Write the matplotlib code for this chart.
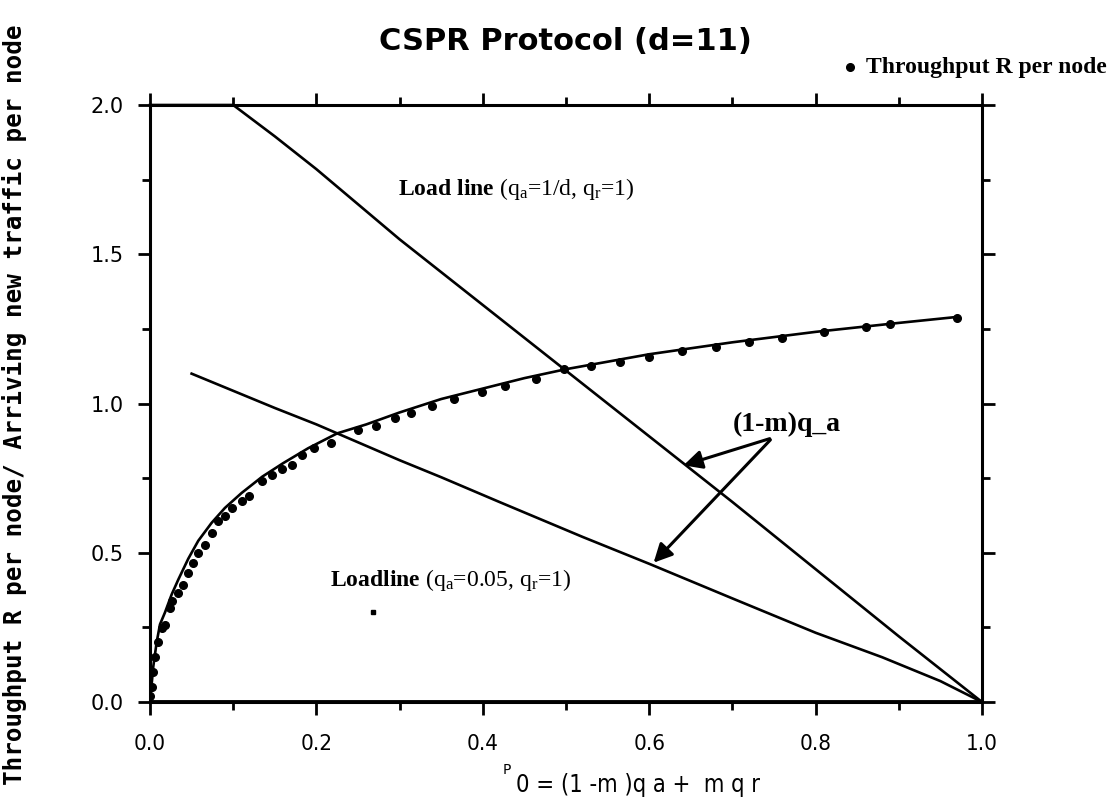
import matplotlib
matplotlib.use("Agg")
import matplotlib.pyplot as plt
from matplotlib.ticker import MultipleLocator

plt.rcParams['mathtext.fontset'] = 'custom'
plt.rcParams['mathtext.rm'] = 'Liberation Serif'
plt.rcParams['mathtext.it'] = 'Liberation Serif'
plt.rcParams['mathtext.bf'] = 'Liberation Serif:bold'

# ---- data ----
title = "CSPR Protocol (d=11)"
legend_label = "Throughput R per node"
ylabel = "Throughput R per node/ Arriving new traffic per node"

# throughput curve (solid line)
curve_x = [0.0, 0.004, 0.008, 0.012, 0.018, 0.026, 0.034, 0.046, 0.058, 0.074, 0.09,
           0.11, 0.135, 0.16, 0.19, 0.225, 0.26, 0.3, 0.35, 0.4, 0.45, 0.5,
           0.6, 0.7, 0.8, 0.9, 0.97]
curve_y = [0.0, 0.12, 0.2, 0.26, 0.3, 0.36, 0.41, 0.48, 0.54, 0.6, 0.65,
           0.7, 0.755, 0.8, 0.85, 0.9, 0.93, 0.97, 1.015, 1.05, 1.085, 1.115,
           1.165, 1.205, 1.24, 1.27, 1.29]

# throughput R per node (dots)
dot_x = [0.0, 0.002, 0.004, 0.006, 0.01, 0.014, 0.018, 0.024, 0.026, 0.034, 0.040,
         0.046, 0.052, 0.058, 0.066, 0.074, 0.082, 0.090, 0.098, 0.111, 0.119,
         0.135, 0.147, 0.159, 0.171, 0.183, 0.197, 0.218, 0.250, 0.272, 0.294,
         0.314, 0.339, 0.365, 0.399, 0.427, 0.464, 0.498, 0.53, 0.565, 0.60,
         0.64, 0.68, 0.72, 0.76, 0.81, 0.86, 0.89, 0.97]
dot_y = [0.02, 0.05, 0.10, 0.15, 0.20, 0.247, 0.258, 0.314, 0.337, 0.365, 0.393,
         0.432, 0.465, 0.499, 0.527, 0.566, 0.605, 0.622, 0.650, 0.672, 0.689,
         0.739, 0.762, 0.779, 0.795, 0.826, 0.851, 0.868, 0.910, 0.926, 0.952,
         0.968, 0.990, 1.015, 1.040, 1.058, 1.083, 1.114, 1.125, 1.14, 1.155,
         1.175, 1.19, 1.205, 1.22, 1.24, 1.255, 1.265, 1.285]

# load line q_a = 1/d, q_r = 1
load1_x = [0.0, 0.1, 0.15, 0.2, 0.3, 0.4, 0.5, 0.6, 0.7, 0.8, 0.9, 1.0]
load1_y = [2.0, 2.0, 1.895, 1.785, 1.55, 1.33, 1.11, 0.89, 0.67, 0.445, 0.22, 0.0]

# load line q_a = 0.05, q_r = 1
load2_x = [0.05, 0.15, 0.2, 0.3, 0.35, 0.42, 0.52, 0.6, 0.7, 0.8, 0.88, 0.95, 1.0]
load2_y = [1.10, 0.985, 0.93, 0.81, 0.753, 0.67, 0.553, 0.463, 0.347, 0.232, 0.15, 0.07, 0.0]

# stray speck
speck_x = [0.268]
speck_y = [0.30]

xticks = [0.0, 0.2, 0.4, 0.6, 0.8, 1.0]
yticks = [0.0, 0.5, 1.0, 1.5, 2.0]

fig = plt.figure(figsize=(11.14, 8.09), dpi=100)
L, R, T, B = 150, 982, 105, 702
ax = fig.add_axes([L/1114, 1-B/809, (R-L)/1114, (B-T)/809])

lw = 1.9
ax.plot(curve_x, curve_y, color='black', lw=lw, zorder=3)
ax.plot(dot_x, dot_y, 'o', color='black', ms=5.5, zorder=4)
ax.plot(load1_x, load1_y, color='black', lw=lw, zorder=3, clip_on=False)
ax.plot(load2_x, load2_y, color='black', lw=lw, zorder=3)
ax.plot(speck_x, speck_y, 's', color='black', ms=2.5)
ax.axhline(0, color='black', lw=3.5, zorder=5)

ax.set_xlim(0, 1.0)
ax.set_ylim(0, 2.0)
ax.set_xticks(xticks)
ax.set_yticks(yticks)
ax.xaxis.set_minor_locator(MultipleLocator(0.1))
ax.yaxis.set_minor_locator(MultipleLocator(0.25))
ax.tick_params(which='both', direction='out', top=True, right=True, width=2, color='black')
ax.tick_params(which='major', length=9)
ax.tick_params(which='minor', length=6)
ax.tick_params(axis='x', labelsize=16, pad=14)
ax.tick_params(axis='y', labelsize=15, pad=10)
for lab in ax.get_xticklabels():
    lab.set_family('DejaVu Sans')
    lab.set_fontstretch('condensed')
for s in ax.spines.values():
    s.set_linewidth(2.2)

# title
fig.text(0.508, 1-42/809, title, ha='center', va='center', fontsize=22,
         family='DejaVu Sans', weight='bold')

# legend-like label
fig.lines.append(plt.Line2D([850/1114], [1-67/809], marker='o', color='black', ms=5.5,
                            transform=fig.transFigure))
fig.text(866/1114, 1-67/809, legend_label, ha='left', va='center', fontsize=17,
         family='Liberation Serif', weight='bold')

# y label
fig.text(15/1114, 0.5, ylabel, rotation=90, ha='center', va='center',
         fontsize=17.5, family='DejaVu Sans Mono', weight='bold')

# x label
fig.text(507/1114, 1-770/809, "P", ha='center', va='center', fontsize=10,
         family='DejaVu Sans')
fig.text(516/1114, 1-785/809, "0 = (1 -m )q a +  m q r", ha='left', va='center',
         fontsize=17, family='DejaVu Sans', fontstretch='condensed')

# annotations
ax.text(0.298, 1.72, r"$\mathbf{Load\ line}$ (q$_\mathrm{a}$=1/d, q$_\mathrm{r}$=1)",
        ha='left', va='center', fontsize=17, family='Liberation Serif')
ax.text(0.216, 0.41, r"$\mathbf{Loadline}$ (q$_\mathrm{a}$=0.05, q$_\mathrm{r}$=1)",
        ha='left', va='center', fontsize=17, family='Liberation Serif')
ax.text(0.765, 0.93, "(1-m)q_a", ha='center', va='center', fontsize=20,
        family='Liberation Serif', weight='bold')
arrow = dict(arrowstyle='-|>', color='black', lw=2.2, mutation_scale=28)
ax.annotate("", xy=(0.638, 0.79), xytext=(0.748, 0.885), arrowprops=arrow)
ax.annotate("", xy=(0.603, 0.46), xytext=(0.748, 0.885), arrowprops=arrow)

fig.savefig("out.png", dpi=100)
